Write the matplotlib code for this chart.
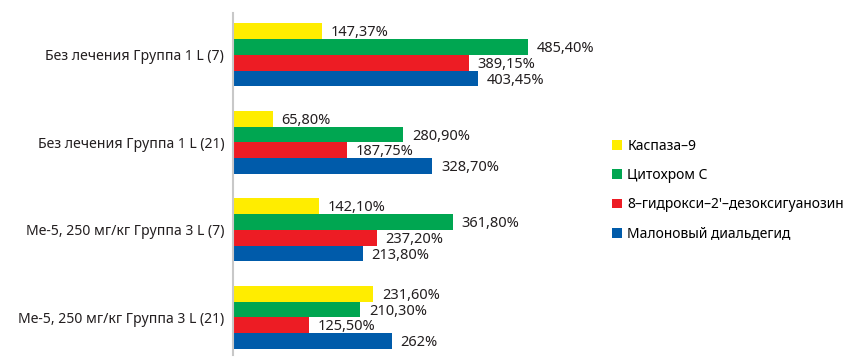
import numpy as np
import matplotlib.pyplot as plt

plt.rcParams['font.family'] = ['Noto Sans', 'DejaVu Sans']

# данные
groups = ['Без лечения Группа 1 L (7)', 'Без лечения Группа 1 L (21)',
          'Ме-5, 250 мг/кг Группа 3 L (7)', 'Ме-5, 250 мг/кг Группа 3 L (21)']
series = ['Каспаза–9', 'Цитохром С', '8–гидрокси–2\'–дезоксигуанозин', 'Малоновый диальдегид']
caspase = [147.37, 65.80, 142.10, 231.60]
cytochrome = [485.40, 280.90, 361.80, 210.30]
ohdg = [389.15, 187.75, 237.20, 125.50]
mda = [403.45, 328.70, 213.80, 262.00]
colors = ['#FFED00', '#00A651', '#ED1C24', '#005BAA']


def fmt(v):
    if float(v).is_integer():
        return '%d%%' % v
    return ('%.2f%%' % v).replace('.', ',')


fig = plt.figure(figsize=(8.57, 3.6), dpi=100)
ax = fig.add_axes([232.5 / 857, 5 / 360, 365 / 857, 342 / 360])

y = np.arange(len(groups))
h = 0.18
offsets = [-1.5 * h, -0.5 * h, 0.5 * h, 1.5 * h]
for vals, name, c, off in zip([caspase, cytochrome, ohdg, mda], series, colors, offsets):
    ax.barh(y + off, vals, height=h, color=c, label=name, linewidth=0)
    for yi, v in zip(y + off, vals):
        ax.text(v + 14, yi + 0.02, fmt(v), va='center', ha='left', fontsize=10.5, color='#231f20')

ax.set_xlim(0, 600)
ax.set_ylim(3.43, -0.477)
ax.set_yticks(y)
ax.set_yticklabels(groups, fontsize=10.1, color='#231f20')
ax.tick_params(axis='y', length=0, pad=6)
ax.set_xticks([])
for s in ['top', 'right', 'bottom']:
    ax.spines[s].set_visible(False)
ax.spines['left'].set_color('#c8c8c8')
ax.spines['left'].set_linewidth(1.5)

ax.legend(loc='upper left', bbox_to_anchor=(612 / 857, 1 - 139 / 360), bbox_transform=fig.transFigure,
          frameon=False, fontsize=10, handlelength=0.7, handleheight=0.7, handletextpad=0.4,
          labelspacing=1.02, borderaxespad=0, borderpad=0)

fig.savefig('out.png', dpi=100)
